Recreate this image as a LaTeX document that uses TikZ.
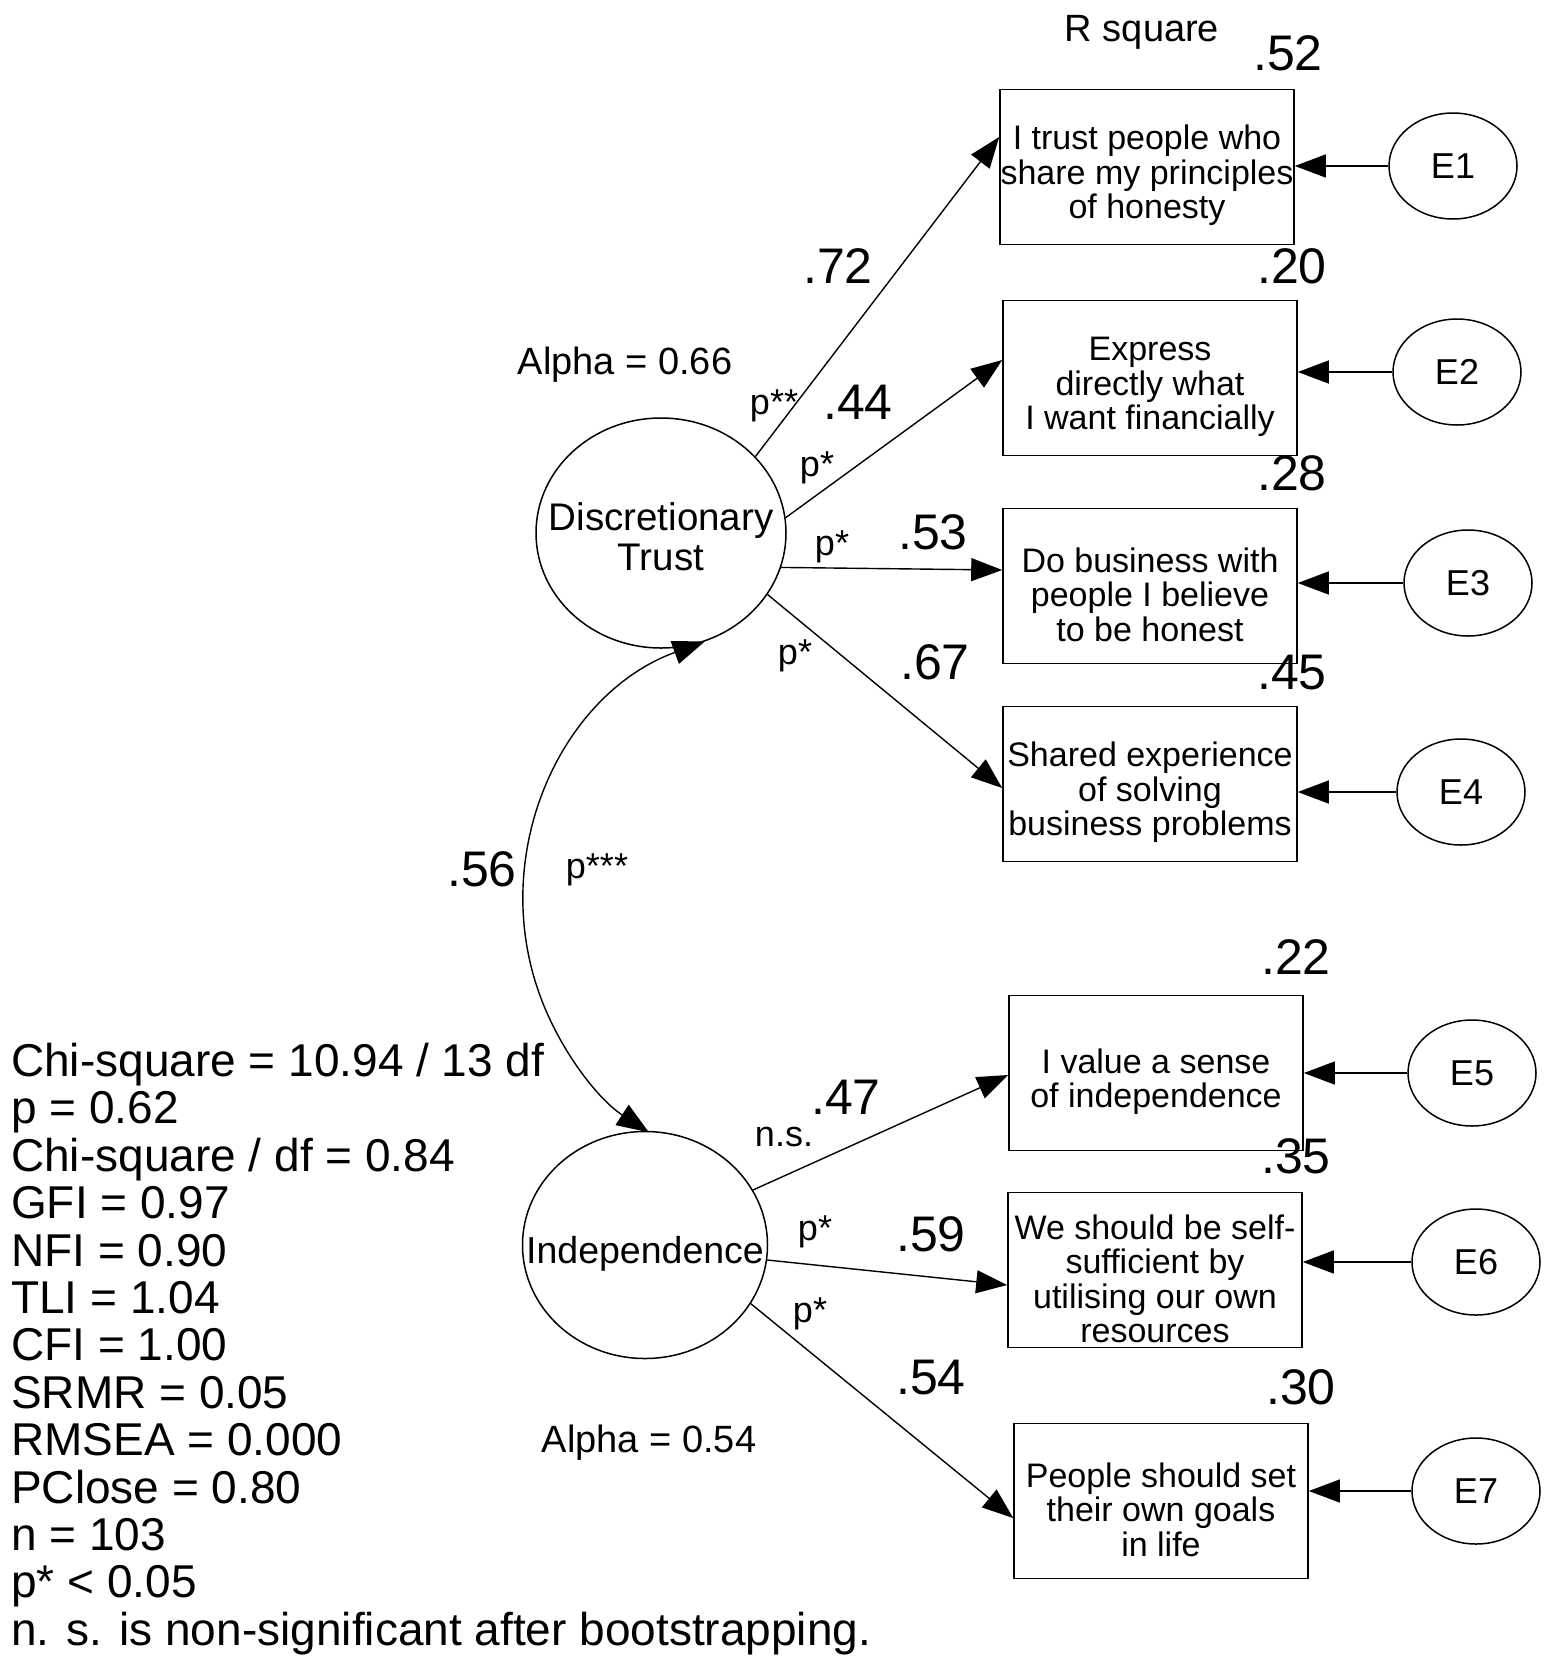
\documentclass[tikz,border=0pt]{standalone}
\usepackage{fontspec}
\setmainfont{Liberation Sans}
\usetikzlibrary{arrows.meta,shapes.geometric}
\newcommand{\toppad}{\rule{0pt}{42pt}}
\begin{document}
\begin{tikzpicture}[x=1pt,y=-1pt,
  obs/.style={draw, line width=1.6pt, minimum width=294pt, minimum height=155pt, align=center, inner sep=0pt, font=\fontsize{34}{34.5}\selectfont},
  err/.style={draw, ellipse, line width=1.5pt, minimum width=128pt, minimum height=106pt, inner sep=0pt, font=\fontsize{36}{40}\selectfont},
  lat/.style={draw, ellipse, line width=1.5pt, inner sep=0pt},
  pth/.style={-{Triangle[length=31pt,width=23pt]}, line width=1.4pt},
  cov/.style={{Triangle[length=32pt,width=24pt]}-{Triangle[length=32pt,width=24pt]}, line width=1.4pt},
  coef/.style={font=\fontsize{50}{55}\selectfont, inner sep=0pt},
  sig/.style={font=\fontsize{36}{40}\selectfont, inner sep=0pt},
  lbl/.style={font=\fontsize{38}{42}\selectfont, inner sep=0pt}]
\useasboundingbox (0,0) rectangle (1544,1658);

% latent variables
\node[lat, minimum width=250pt, minimum height=230pt,
  label={[align=center, inner sep=0pt, yshift=-4pt, font=\fontsize{38.5}{40}\selectfont]center:Discretionary\\Trust}] (DT) at (661,533) {};
\node[lat, minimum width=245pt, minimum height=227pt,
  label={[inner sep=0pt, yshift=-9pt, font=\fontsize{37.5}{40}\selectfont]center:Independence}] (IND) at (645,1245) {};

% observed variables
\node[obs] (B1) at (1147,167) {\toppad I trust people who\\share my principles\\of honesty};
\node[obs] (B2) at (1150,378) {\toppad Express\\directly what\\ I want financially};
\node[obs] (B3) at (1150,586) {\toppad Do business with\\people I believe\\to be honest};
\node[obs] (B4) at (1150,784) {\toppad Shared experience\\of solving\\business problems};
\node[obs] (B5) at (1156,1073) {\toppad I value a sense\\of independence};
\node[obs] (B6) at (1155,1270) {\toppad We should be self-\\sufficient by\\utilising our own\\resources};
\node[obs] (B7) at (1161,1501) {\toppad People should set\\their own goals\\in life};

% error terms
\node[err] (E1) at (1453,166) {E1};
\node[err] (E2) at (1457,372) {E2};
\node[err] (E3) at (1468,583) {E3};
\node[err] (E4) at (1461,792) {E4};
\node[err] (E5) at (1472,1073) {E5};
\node[err] (E6) at (1476,1262) {E6};
\node[err] (E7) at (1476,1491) {E7};

% error arrows
\foreach \i in {1,...,7}{
  \draw[pth] (E\i.west) -- (E\i.west -| B\i.east);
}

% loadings
\draw[pth] (DT.39) -- ([yshift=30pt]B1.west);
\draw[pth] (DT.7) -- ([yshift=18pt]B2.west);
\draw[pth] (DT.-16) -- ([yshift=16pt]B3.west);
\draw[pth] (DT.-30) -- ([yshift=-4pt]B4.west);
\draw[pth] (IND.27) -- ([yshift=-2pt]B5.west);
\draw[pth] (IND.-7) -- ([yshift=-15pt]B6.west);
\draw[pth] (IND.-29) -- ([yshift=-17pt]B7.west);

% covariance
\draw[cov] (DT.-68) arc[start angle=250, end angle=123, radius=276];

% R square labels
\node[lbl] (rsq) at (1142,32) {R square};
\node[coef] (r1) at (1288,53) {.52};
\node[coef] (r2) at (1292,266) {.20};
\node[coef] (r3) at (1292,473) {.28};
\node[coef] (r4) at (1292,673) {.45};
\node[coef] (r5) at (1296,957) {.22};
\node[coef] (r6) at (1296,1156) {.35};
\node[coef] (r7) at (1301,1387) {.30};

% path coefficients
\node[coef] (c1) at (838,266) {.72};
\node[sig] (s1) at (774,406) {p**};
\node[coef] (c2) at (858,402) {.44};
\node[sig] (s2) at (817,468) {p*};
\node[sig] (s3) at (832,547) {p*};
\node[coef] (c3) at (933,532) {.53};
\node[sig] (s4) at (795,656) {p*};
\node[coef] (c4) at (935,662) {.67};
\node[coef] (c5) at (482,869) {.56};
\node[sig] (s5) at (597,870) {p***};
\node[coef] (c6) at (846,1097) {.47};
\node[sig] (s6) at (784,1137) {n.s.};
\node[sig] (s7) at (815,1232) {p*};
\node[coef] (c7) at (931,1234) {.59};
\node[sig] (s8) at (810,1314) {p*};
\node[coef] (c8) at (931,1378) {.54};

% alpha labels
\node[lbl] (a1) at (625,365) {Alpha = 0.66};
\node[lbl] (a2) at (649,1443) {Alpha = 0.54};

% fit statistics
\node[anchor=north west, align=left, inner sep=0pt, font=\fontsize{46}{47.4}\selectfont] (stats) at (11,1043)
 {Chi-square = 10.94 / 13 df\\
  p = 0.62\\
  Chi-square / df = 0.84\\
  GFI = 0.97\\
  NFI = 0.90\\
  TLI = 1.04\\
  CFI = 1.00\\
  SRMR = 0.05\\
  RMSEA = 0.000\\
  PClose = 0.80\\
  n = 103\\
  p* < 0.05\\
  n. s. is non-significant after bootstrapping.};
\end{tikzpicture}
\end{document}
